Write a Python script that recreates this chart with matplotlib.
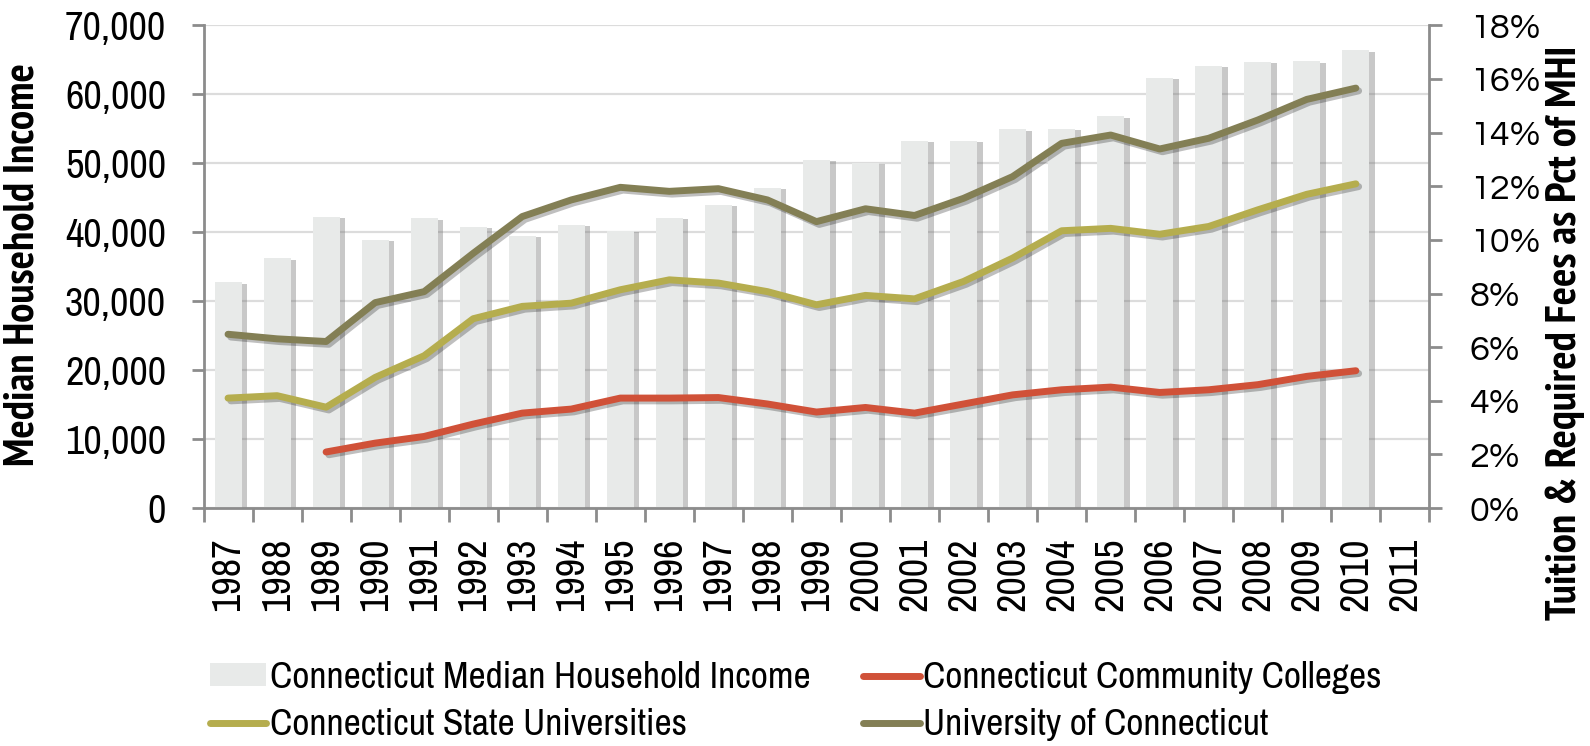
import matplotlib
matplotlib.use("Agg")
import matplotlib.pyplot as plt
import matplotlib.patheffects as pe
from matplotlib.patches import Patch
from matplotlib.lines import Line2D
import numpy as np

NARROW = ['Archivo Narrow', 'PT Sans Narrow', 'DejaVu Sans']
NARROW_BOLD = ['PT Sans Narrow', 'Archivo Narrow', 'DejaVu Sans']
GOTHIC = ['Questrial', 'DejaVu Sans']
plt.rcParams['font.family'] = NARROW

years = [str(y) for y in range(1987, 2012)]

# median household income (left axis), no value for 2011
income = [32750, 36200, 42200, 38900, 42000, 40800, 39500, 41100, 40200, 42100,
          44000, 46400, 50500, 50100, 53300, 53300, 54900, 55000, 56800, 62400,
          64100, 64700, 64800, 66400, None]

# tuition & fees as pct of MHI (right axis)
community = [None, None, 2.09, 2.42, 2.67, 3.13, 3.54, 3.69, 4.10, 4.10,
             4.12, 3.88, 3.58, 3.75, 3.54, 3.88, 4.22, 4.41, 4.51, 4.31,
             4.41, 4.60, 4.91, 5.12, None]
state_univ = [4.10, 4.19, 3.76, 4.87, 5.68, 7.06, 7.52, 7.64, 8.14, 8.51,
              8.39, 8.07, 7.58, 7.93, 7.80, 8.45, 9.32, 10.34, 10.43, 10.21,
              10.50, 11.12, 11.70, 12.09, None]
uconn = [6.48, 6.31, 6.21, 7.66, 8.07, 9.50, 10.87, 11.49, 11.96, 11.81,
         11.91, 11.49, 10.68, 11.16, 10.91, 11.55, 12.36, 13.60, 13.91, 13.39,
         13.79, 14.47, 15.24, 15.66, None]

bar_color = '#E8EAE9'
red = '#D05138'
yellow = '#B5AD4E'
olive = '#837F55'
axis_gray = '#8C8C8C'
grid_gray = '#DCDCDC'


def to_arr(vals):
    return np.array([np.nan if v is None else v for v in vals], dtype=float)


fig = plt.figure(figsize=(15.9, 7.46), dpi=100)
ax = fig.add_axes([0.128, 0.319, 0.771, 0.647])

x = np.arange(len(years))
bars = ax.bar(x, np.nan_to_num(to_arr(income)), width=0.55, color=bar_color, zorder=2)
for b in bars:
    b.set_path_effects([pe.SimplePatchShadow(offset=(4, -1), shadow_rgbFace='#777777', alpha=0.4),
                        pe.Normal()])

ax.set_xlim(-0.5, len(years) - 0.5)
ax.set_ylim(0, 70000)
ax.set_yticks(range(0, 70001, 10000))
ax.set_yticklabels([f"{v:,}" for v in range(0, 70001, 10000)], fontsize=29)
ax.yaxis.grid(True, color=grid_gray, linewidth=1.6)
ax.set_axisbelow(True)

ax.set_xticks(x)
ax.set_xticklabels(years, rotation=90, fontsize=29)
ax.set_xticks(np.arange(-0.5, len(years), 1), minor=True)
ax.tick_params(axis='x', which='major', length=0, pad=21)
ax.tick_params(axis='x', which='minor', length=10, width=2, color=axis_gray)
ax.tick_params(axis='y', length=9, width=2, color=axis_gray, pad=18)

for s in ['top', 'right']:
    ax.spines[s].set_visible(False)
for s in ['left', 'bottom']:
    ax.spines[s].set_color(axis_gray)
    ax.spines[s].set_linewidth(2)

ax.set_ylabel("Median Household Income", fontsize=31, fontweight='bold', family=NARROW_BOLD)
ax.yaxis.set_label_coords(-0.131, 0.505)

ax2 = ax.twinx()
ax2.set_ylim(0, 18)
ax2.set_yticks(range(0, 19, 2))
ax2.set_yticklabels([f"{v}%" for v in range(0, 19, 2)], fontsize=26, family=GOTHIC)
ax2.tick_params(axis='y', length=9, width=2, color=axis_gray, pad=20)
for s in ['top', 'left', 'bottom']:
    ax2.spines[s].set_visible(False)
ax2.spines['right'].set_color(axis_gray)
ax2.spines['right'].set_linewidth(2)
ax2.set_ylabel("Tuition & Required Fees as Pct of MHI", fontsize=31, fontweight='bold',
               family=NARROW_BOLD)
ax2.yaxis.set_label_coords(1.0946, 0.364)

shadow = [pe.SimpleLineShadow(offset=(2, -2), alpha=0.25), pe.Normal()]
for vals, c in [(community, red), (state_univ, yellow), (uconn, olive)]:
    ax2.plot(x, to_arr(vals), color=c, linewidth=5, solid_capstyle='round',
             solid_joinstyle='round', path_effects=shadow, zorder=3)

# legend as two columns placed separately
leg_kw = dict(loc='center left', frameon=False, fontsize=27, handlelength=1.5,
              handletextpad=0.1, labelspacing=0.38, borderpad=0, borderaxespad=0,
              handleheight=0.55)
leg1 = fig.legend([Patch(facecolor=bar_color, edgecolor='none'),
                   Line2D([], [], color=yellow, linewidth=5, solid_capstyle='round')],
                  ["Connecticut Median Household Income", "Connecticut State Universities"],
                  bbox_to_anchor=(0.132, 0.0603), **leg_kw)
leg2 = fig.legend([Line2D([], [], color=red, linewidth=5, solid_capstyle='round'),
                   Line2D([], [], color=olive, linewidth=5, solid_capstyle='round')],
                  ["Connecticut Community Colleges", "University of Connecticut"],
                  bbox_to_anchor=(0.543, 0.0603), **leg_kw)

fig.savefig("out.png", dpi=100)
